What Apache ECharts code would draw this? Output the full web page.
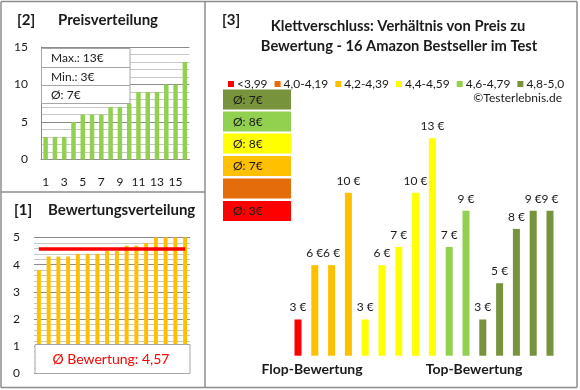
<!DOCTYPE html>
<html><head><meta charset="utf-8">
<script src="https://cdn.jsdelivr.net/npm/echarts@6/dist/echarts.min.js"></script>
<style>html,body{margin:0;padding:0;background:#fff}#c{width:580px;height:390px}</style>
</head><body><div id="c"></div>
<script>
// ---- data ----
const priceCats = ['1','2','3','4','5','6','7','8','9','10','11','12','13','14','15','16'];
const pricesSorted = [3,3,3,5,6,6,6,7,7,7.5,9,9,9,10,10,13];
const ratingsSorted = [3.8,4.3,4.3,4.3,4.4,4.4,4.4,4.5,4.5,4.7,4.7,4.8,5,5,5,5];
const ratingAvg = 4.57;
const ratingAvgLabel = '4,57';
const groupNames = ['<3,99','4,0-4,19','4,2-4,39','4,4-4,59','4,6-4,79','4,8-5,0'];
const groupColors = ['#FF0000','#E46C0A','#FFC000','#FFFF00','#92D050','#77933C'];
const groupAvg = [3, null, 7, 8, 8, 7];
// prices ordered by rating, with group index of each product
const pricesByRating = [3,6,6,10,3,6,7,10,13,7,9,3,5,8,9,9];
const groupOfProduct = [0,2,2,2,3,3,3,3,3,4,4,5,5,5,5,5];
const priceTicks = [0,5,10,15];
const ratingTicks = [0,1,2,3,4,5];

const FONT = 'Lato';
const TXT = '#1a1a1a';
const chart = echarts.init(document.getElementById('c'));

const groupSeries = groupNames.map((n, g) => ({
  name: n, type: 'bar', xAxisIndex: 2, yAxisIndex: 2,
  barWidth: 7, barGap: '-100%',
  itemStyle: { color: groupColors[g] },
  label: { show: true, position: 'top', distance: 6, formatter: p => p.value + ' €',
           fontFamily: FONT, fontSize: 12, color: TXT },
  data: pricesByRating.map((v, i) => groupOfProduct[i] === g ? v : '-')
}));

const maxP = Math.max(...pricesSorted), minP = Math.min(...pricesSorted);
const avgP = Math.round(pricesSorted.reduce((a,b)=>a+b,0) / pricesSorted.length);

const graphics = [];
// frame
const L = (x1,y1,x2,y2) => graphics.push({type:'line', shape:{x1,y1,x2,y2}, style:{stroke:'#8c8c8c', lineWidth:1.5}, z:100});
L(1,1.5,577,1.5); L(1,387.5,577,387.5); L(1,1.5,1,387.5); L(577,1.5,577,387.5);
L(205,1.5,205,387.5); L(1,192,205,192);
const T = (text,x,y,opt={}) => graphics.push({type:'text', x, y, z:110, style:Object.assign({text, fill:TXT, fontFamily:FONT, fontSize:12, textVerticalAlign:'middle'}, opt)});
T('[2]', 17, 20.5, {fontSize:15, fontWeight:'bold'});
T('Preisverteilung', 58, 20.5, {fontSize:15, fontWeight:'bold'});
T('[1]', 14, 210.5, {fontSize:15, fontWeight:'bold'});
T('Bewertungsverteilung', 48, 210.5, {fontSize:15, fontWeight:'bold'});
T('[3]', 222, 20.5, {fontSize:15, fontWeight:'bold'});
T('Klettverschluss: Verhältnis von Preis zu', 398, 26, {fontSize:14.7, fontWeight:'bold', textAlign:'center'});
T('Bewertung - 16 Amazon Bestseller im Test', 399, 46, {fontSize:14.7, fontWeight:'bold', textAlign:'center'});
T('©Testerlebnis.de', 562, 98, {fontSize:12, textAlign:'right'});
T('Flop-Bewertung', 312, 369, {fontSize:14, fontWeight:'bold', textAlign:'center'});
T('Top-Bewertung', 474, 369, {fontSize:14, fontWeight:'bold', textAlign:'center'});
// price info box
graphics.push({type:'rect', shape:{x:41.5,y:48.5,width:88.5,height:55}, style:{fill:'#fff', stroke:'#a6a6a6', lineWidth:1}, z:105});
graphics.push({type:'line', shape:{x1:41.5,y1:67.5,x2:130,y2:67.5}, style:{stroke:'#a6a6a6', lineWidth:1}, z:106});
graphics.push({type:'line', shape:{x1:41.5,y1:85.5,x2:130,y2:85.5}, style:{stroke:'#a6a6a6', lineWidth:1}, z:106});
T('Max.: ' + maxP + '€', 51, 58.5);
T('Min.: ' + minP + '€', 51, 77);
T('Ø: ' + avgP + '€', 51, 95);
// rating avg box
graphics.push({type:'rect', shape:{x:35,y:344.5,width:155,height:29}, style:{fill:'#fff', stroke:'#a6a6a6', lineWidth:1}, z:105});
T('Ø Bewertung: ' + ratingAvgLabel, 111, 359.5, {fontSize:14, fill:'#FF0000', textAlign:'center'});
// group average boxes (top: best group)
const boxTops = [89.5, 111.5, 133.5, 156, 178.5, 201];
for (let k = 0; k < 6; k++) {
  const g = 5 - k;
  graphics.push({type:'rect', shape:{x:223,y:boxTops[k],width:68,height:20}, style:{fill:groupColors[g]}, z:105});
  if (groupAvg[g] != null) T('Ø: ' + groupAvg[g] + '€', 233, boxTops[k] + 10.5);
}

const axisLabel = {fontFamily: FONT, fontSize: 12, color: TXT};
chart.setOption({
  animation: false,
  textStyle: {fontFamily: FONT},
  legend: {
    data: groupNames, left: 223, top: 73, icon: 'rect', itemWidth: 6, itemHeight: 6,
    itemGap: 7, selectedMode: false,
    textStyle: {fontFamily: FONT, fontSize: 12, color: TXT, padding: [0,0,0,-2]}
  },
  grid: [
    {left: 41, right: 390.5, top: 47, bottom: 230.5},
    {left: 34, right: 390, top: 237.5, bottom: 16.5},
    {left: 289.6, right: 21.6, top: 84, bottom: 34.3}
  ],
  xAxis: [
    {gridIndex:0, type:'category', data: priceCats, axisTick:{show:false},
     axisLine:{lineStyle:{color:'#8c8c8c'}},
     axisLabel: Object.assign({interval:1, margin:17}, axisLabel)},
    {gridIndex:1, type:'category', data: priceCats, axisTick:{show:false},
     axisLine:{show:false}, axisLabel:{show:false}},
    {gridIndex:2, type:'category', data: priceCats, axisTick:{show:false},
     axisLine:{show:false}, axisLabel:{show:false}}
  ],
  yAxis: [
    {gridIndex:0, type:'value', min: priceTicks[0], max: priceTicks[priceTicks.length-1], interval: 5,
     axisLine:{show:true, lineStyle:{color:'#8c8c8c'}}, axisTick:{show:false},
     axisLabel: Object.assign({margin:13, formatter: v => priceTicks.includes(v) ? String(v) : ''}, axisLabel),
     splitLine:{lineStyle:{color:'#8c8c8c'}},
     minorTick:{show:false, splitNumber:5}, minorSplitLine:{show:true, lineStyle:{color:'#c8c8c8'}}},
    {gridIndex:1, type:'value', min: ratingTicks[0], max: ratingTicks[ratingTicks.length-1], interval: 1,
     axisLine:{show:false}, axisTick:{show:false},
     axisLabel: Object.assign({margin:14, formatter: v => ratingTicks.includes(v) ? String(v) : ''}, axisLabel),
     splitLine:{lineStyle:{color:'#8c8c8c'}},
     minorTick:{show:false, splitNumber:5}, minorSplitLine:{show:true, lineStyle:{color:'#c8c8c8'}}},
    {gridIndex:2, type:'value', min: 1, max: 16, show:false}
  ],
  series: [
    {type:'bar', xAxisIndex:0, yAxisIndex:0, barWidth:4.5, itemStyle:{color:'#92D050'}, data: pricesSorted},
    {type:'bar', xAxisIndex:1, yAxisIndex:1, barWidth:4, itemStyle:{color:'#FFC000'}, data: ratingsSorted,
     markLine:{silent:true, symbol:'none', label:{show:false},
       lineStyle:{color:'#FF0000', width:3.5, type:'solid'},
       data:[[{coord:[0, ratingAvg]}, {coord:[15, ratingAvg]}]]}},
    ...groupSeries
  ],
  graphic: graphics
});
</script></body></html>
